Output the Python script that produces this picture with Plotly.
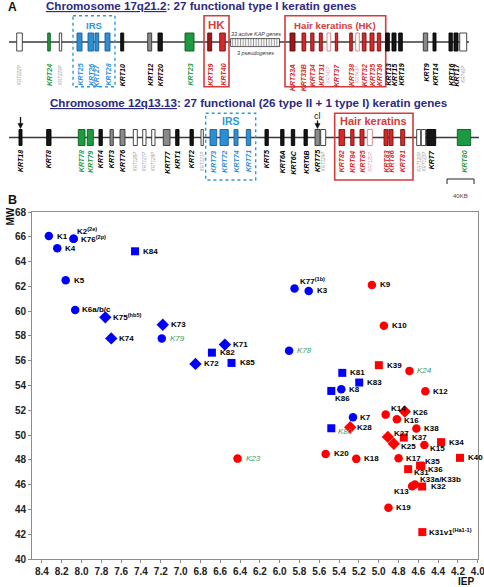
import plotly.graph_objects as go

W, H = 484, 587
FONT = "Liberation Sans, Arial, sans-serif"

# ---------------- Panel A data (map units along each chromosome) ----------------
chr17_genes = ["KRT222P", "KRT24", "KRT223P", "KRT25", "KRT26", "KRT27", "KRT28", "KRT10", "KRT12", "KRT20",
               "KRT23", "KRT39", "KRT40", "KRT33A", "KRT33B", "KRT34", "KRT31", "KRT41P", "KRT37", "KRT38",
               "KRT43P", "KRT32", "KRT35", "KRT36", "KRT13", "KRT15", "KRT19", "KRT9", "KRT14", "KRT16",
               "KRT17", "KRT42P"]
chr17_start = [16.7, 47.7, 59.3, 77, 88, 95, 105, 120.7, 147.7, 158,
               185, 207.7, 219.7, 290, 302, 310.7, 319.3, 327, 335.3, 349.7,
               355.7, 362.3, 370, 377.3, 385.7, 392, 398.7, 423.3, 433, 449,
               454, 459.7]
chr17_end = [22.3, 50.3, 61.7, 82, 93.7, 98.7, 110, 123.7, 151.7, 162.3,
             194, 211.7, 225.3, 295, 305.7, 314, 322.3, 330.7, 337.7, 352.3,
             359.3, 366, 374, 380.7, 389.3, 396, 402.3, 427.7, 436, 452.3,
             458, 466.7]
chr17_group = ["pseudo", "epi_new", "pseudo", "irs", "irs", "irs", "irs", "epi", "epi_gray", "epi",
               "epi_new", "hk_dark", "hk", "hk_dark", "hk", "hk", "hk", "hk_pseudo", "hk", "hk",
               "hk_pseudo", "hk", "hk", "hk", "epi", "epi", "epi", "epi_gray", "epi", "epi",
               "epi", "pseudo"]
chr17_kap = [231, 280]
chr17_regions = [("IRS", 73, 115, "irs"), ("HK", 204, 229, "hk"), ("Hair keratins (HK)", 285, 385.7, "hk")]

chr12_genes = ["KRT18", "KRT8", "KRT78", "KRT79", "KRT4", "KRT3", "KRT76", "KRT128P", "KRT127P", "KRT129P",
               "KRT77", "KRT1", "KRT2", "KRT121P", "KRT73", "KRT72", "KRT74", "KRT71", "KRT5", "KRT6A",
               "KRT6C", "KRT6B", "KRT75", "KRT124P", "KRT82", "KRT84", "KRT85", "KRT125P", "KRT83", "KRT86",
               "KRT81", "KRT120P", "KRT122P", "KRT7", "KRT80"]
chr12_start = [19, 46.7, 78.3, 87.3, 99, 110, 120, 133.3, 142.7, 151.7,
               163.3, 175.7, 190, 201, 210, 220, 234, 246.3, 265, 280.7,
               291.3, 304, 315, 320.7, 339, 350.7, 360, 367.3, 384, 389,
               400.7, 416.7, 421.3, 426.7, 457.3]
chr12_end = [22, 51, 85, 93.3, 102.3, 113.3, 125, 137.3, 146, 155,
             170, 179, 193.3, 203.3, 216.7, 228.3, 238, 250.7, 268.3, 284,
             294.7, 307.3, 320, 325.7, 344.7, 354, 364, 372.3, 388, 393,
             404.7, 420.7, 425.7, 435.7, 470.7]
chr12_group = ["epi", "epi", "epi_new", "epi_new", "epi", "epi_gray", "epi_gray", "pseudo", "pseudo", "pseudo",
               "epi_gray", "epi", "epi", "pseudo", "irs", "irs", "irs", "irs", "epi", "epi",
               "epi", "epi", "epi_gray", "pseudo", "hk", "hk", "hk", "hk_pseudo", "hk", "hk",
               "hk", "pseudo", "pseudo", "epi", "epi_new"]
chr12_regions = [("IRS", 205.7, 255.7, "irs"), ("Hair keratins", 334.7, 413, "hk")]
chr12_marks = [("", 20.5), ("cl", 317.5)]
scale_kb = 40
scale_len = 27

# ---------------- Panel B data ----------------
b_labels = ["K1", "K2", "K76", "K4", "K5", "K6a/b/c", "K75", "K74", "K84", "K73",
            "K79", "K71", "K82", "K72", "K85", "K78", "K77", "K3", "K81", "K83",
            "K8", "K86", "K7", "K80",
            "K9", "K10", "K39", "K24", "K12", "K14", "K26", "K16", "K38", "K28",
            "K27", "K37", "K25", "K15", "K34", "K23", "K20", "K18", "K17", "K35",
            "K36", "K31", "K40", "K33a/K33b", "K13", "K32", "K19", "K31v1"]
b_iep = [8.33, 8.08, 8.08, 8.245, 8.16, 8.064, 7.76, 7.70, 7.46, 7.18,
         7.19, 6.553, 6.684, 6.85, 6.486, 5.905, 5.85, 5.707, 5.368, 5.197,
         5.378, 5.479, 5.26, 5.479,
         5.069, 4.948, 4.999, 4.69, 4.53, 4.93, 4.737, 4.817, 4.62, 5.288,
         4.908, 4.747, 4.848, 4.539, 4.371, 6.425, 5.536, 5.227, 4.80, 4.583,
         4.57, 4.703, 4.18, 4.636, 4.663, 4.562, 4.902, 4.56]
b_mw = [66.06, 65.85, 65.85, 65.07, 62.49, 60.1, 59.5, 57.8, 64.83, 58.9,
        57.8, 57.3, 56.65, 55.74, 55.82, 56.8, 61.82, 61.63, 55.02, 54.24,
        53.70, 53.56, 51.44, 50.55,
        62.11, 58.83, 55.64, 55.18, 53.54, 51.65, 51.9, 51.28, 50.53, 50.63,
        49.85, 49.8, 49.3, 49.2, 49.43, 48.1, 48.48, 48.08, 48.13, 47.54,
        47.5, 47.25, 48.16, 46.01, 45.88, 45.85, 44.13, 42.17]
b_type = ["II"] * 24 + ["I"] * 28
b_group = ["epi", "epi", "epi", "epi", "epi", "epi", "irs", "irs", "hair", "irs",
           "epi", "irs", "hair", "irs", "hair", "epi", "epi", "epi", "hair", "hair",
           "epi", "hair", "epi", "hair",
           "epi", "epi", "hair", "epi", "epi", "epi", "irs", "epi", "epi", "irs",
           "irs", "hair", "irs", "epi", "hair", "epi", "epi", "epi", "epi", "hair",
           "hair", "hair", "hair", "epi", "epi", "hair", "epi", "hair"]
b_new = ["K79", "K78", "K80", "K24", "K23"]
b_sup = {"K2": "(2e)", "K76": "(2p)", "K75": "(hb5)", "K77": "(1b)", "K31v1": "(Ha1-1)"}
x_ticks = [8.4, 8.2, 8.0, 7.8, 7.6, 7.4, 7.2, 7.0, 6.8, 6.6, 6.4, 6.2, 6.0, 5.8, 5.6, 5.4, 5.2, 5.0,
           4.8, 4.6, 4.4, 4.2, 4.0]
y_ticks = [40, 42, 44, 46, 48, 50, 52, 54, 56, 58, 60, 62, 64, 66, 68]

# ---------------- styles ----------------
fill = {"epi": "#161616", "epi_gray": "#8a8a8a", "epi_new": "#1c9a40", "irs": "#2b8fd8",
        "hk": "#d62828", "hk_dark": "#9c1a1a", "pseudo": "white", "hk_pseudo": "white"}
edge = {"epi": "#000000", "epi_gray": "#333333", "epi_new": "#0d5a22", "irs": "#1b5f96",
        "hk": "#7a1010", "hk_dark": "#5a0a0a", "pseudo": "#333333", "hk_pseudo": "#d98080"}
lab_col = {"epi": "#000000", "epi_gray": "#000000", "epi_new": "#1e9a45", "irs": "#2b8fd8",
           "hk": "#d42a2a", "hk_dark": "#d42a2a", "pseudo": "#9a9a9a", "hk_pseudo": "#e09a9a"}
region_col = {"irs": "#2b9ad8", "hk": "#d43c3c"}
NAVY = "#2d2a80"
GREEN_LAB = "#339966"

label_offsets = {  # dx, dy (px, down positive), anchor
    "K2": (1, -8, "left"), "K76": (5, 0, "left"), "K6a/b/c": (4.5, 0, "left"),
    "K72": (7, 0, "left"), "K77": (3, -8, "left"), "K86": (2, 7.5, "left"),
    "K14": (3, -6, "left"), "K26": (6, 0.5, "left"), "K16": (5.5, 1.5, "left"),
    "K7": (5, 0, "left"), "K80": (5, 3, "left"), "K28": (5, 0, "left"),
    "K27": (4, -3.5, "left"), "K25": (5, 2.5, "left"), "K15": (4, 3.5, "left"),
    "K17": (5, 0, "left"), "K35": (3, -4.5, "left"), "K36": (4.5, 3, "left"),
    "K31": (4, 3.5, "left"), "K33a/K33b": (3, -5, "left"), "K13": (-1, 5, "right"),
    "K32": (7, 0, "left"), "K31v1": (5, 0, "left"),
}

fig = go.Figure()
shapes = []
annots = []

def ax2(**kw):
    d = dict(xref="x2", yref="y2")
    d.update(kw)
    return d

# ---- Panel A rows ----
rows = [
    dict(genes=chr17_genes, start=chr17_start, end=chr17_end, group=chr17_group, yc=42, hh=9,
         line=(9, 469), lab_top=62, regions=chr17_regions, reg_y=(15.7, 86.7), reg_lab_y=25,
         reg_size={"IRS": 9.6, "HK": 11.5, "Hair keratins (HK)": 9.7}),
    dict(genes=chr12_genes, start=chr12_start, end=chr12_end, group=chr12_group, yc=137.5, hh=8,
         line=(9, 479), lab_top=148.5, regions=chr12_regions, reg_y=(113.3, 180), reg_lab_y=120.5,
         reg_size={"IRS": 10.5, "Hair keratins": 11}),
]
for r in rows:
    shapes.append(ax2(type="line", x0=r["line"][0], x1=r["line"][1], y0=r["yc"], y1=r["yc"],
                      layer="below", line=dict(color="#3a3a3a", width=1.6)))
    for name, x0, x1, kind in r["regions"]:
        shapes.append(ax2(type="rect", x0=x0, x1=x1, y0=r["reg_y"][0], y1=r["reg_y"][1],
                          line=dict(color=region_col[kind], width=1.6 if kind == "hk" else 1.4,
                                    dash="dot" if kind == "irs" else "solid"),
                          fillcolor="rgba(0,0,0,0)"))
        annots.append(ax2(x=(x0 + x1) / 2, y=r["reg_lab_y"], text="<b>%s</b>" % name, showarrow=False,
                          font=dict(family=FONT, size=r["reg_size"][name], color=region_col[kind]),
                          xanchor="center", yanchor="middle"))
    for g, x0, x1, k in zip(r["genes"], r["start"], r["end"], r["group"]):
        shapes.append(ax2(type="rect", x0=x0, x1=x1, y0=r["yc"] - r["hh"], y1=r["yc"] + r["hh"],
                          fillcolor=fill[k], line=dict(color=edge[k], width=0.9)))
        tiny = k in ("pseudo", "hk_pseudo")
        annots.append(ax2(x=(x0 + x1) / 2, y=r["lab_top"] + (2 if tiny else 0),
                          text="<b><i>%s</i></b>" % g if not tiny else "<i>%s</i>" % g,
                          showarrow=False, textangle=-90, xanchor="center", yanchor="top",
                          font=dict(family=FONT, size=4.5 if tiny else 7, color=lab_col[k])))

# KAP cluster (hatched)
fig.add_trace(go.Bar(y=[43], x=[chr17_kap[1] - chr17_kap[0]], base=[chr17_kap[0]], width=[8],
                     orientation="h", xaxis="x2", yaxis="y2", showlegend=False, hoverinfo="skip",
                     marker=dict(color="white", line=dict(color="#333", width=0.8),
                                 pattern=dict(shape="|", fgcolor="#333", bgcolor="white", size=2.6,
                                              solidity=0.4))))
kap_mid = sum(chr17_kap) / 2
annots.append(ax2(x=kap_mid, y=33.5, text="<i>33 active KAP genes</i>", showarrow=False,
                  font=dict(family=FONT, size=5.4, color="#333")))
annots.append(ax2(x=kap_mid, y=52.5, text="<i>3 pseudogenes</i>", showarrow=False,
                  font=dict(family=FONT, size=5.4, color="#333")))

# arrows on chr12 (line + head)
for txt, xm in chr12_marks:
    y_top = 117 if not txt else 120.5
    shapes.append(ax2(type="line", x0=xm, x1=xm, y0=y_top, y1=124.5, line=dict(color="#111", width=1.3)))
    shapes.append(ax2(type="path", path="M %f,123.5 L %f,123.5 L %f,128.5 Z" % (xm - 2.6, xm + 2.6, xm),
                      fillcolor="#111", line=dict(color="#111", width=0.5)))
    if txt:
        annots.append(ax2(x=xm, y=115.5, text=txt, showarrow=False,
                          font=dict(family=FONT, size=9, color="#111")))

# scale bar
sb0 = 447
shapes.append(ax2(type="line", x0=sb0, x1=sb0 + scale_len, y0=179, y1=179, line=dict(color="#222", width=1)))
for xx in (sb0, sb0 + scale_len):
    shapes.append(ax2(type="line", x0=xx, x1=xx, y0=179, y1=184, line=dict(color="#222", width=1)))
annots.append(ax2(x=sb0 + scale_len / 2, y=195.5, text="%dKB" % scale_kb, showarrow=False,
                  font=dict(family=FONT, size=6, color="#444")))

# titles
annots.append(ax2(x=44, y=5.5, xanchor="left", yanchor="middle", showarrow=False,
                  text="<b><u>Chromosome 17q21.2</u>: 27 functional type I keratin genes</b>",
                  font=dict(family=FONT, size=11.6, color=NAVY)))
annots.append(ax2(x=48, y=102.5, xanchor="left", yanchor="middle", showarrow=False,
                  text="<b><u>Chromosome 12q13.13</u>: 27 functional (26 type II + 1 type I) keratin genes</b>",
                  font=dict(family=FONT, size=11.6, color=NAVY)))

# ---- Panel B ----
color_map = {"I": "#ff0000", "II": "#0000ff"}
symbol_map = {"epi": "circle", "irs": "diamond", "hair": "square"}
size_map = {"epi": 8.5, "irs": 9.5, "hair": 8}
for t in ["II", "I"]:
    for c in ["epi", "irs", "hair"]:
        idx = [i for i in range(len(b_labels)) if b_type[i] == t and b_group[i] == c]
        if not idx:
            continue
        fig.add_trace(go.Scatter(x=[b_iep[i] for i in idx], y=[b_mw[i] for i in idx], mode="markers",
                                 xaxis="x", yaxis="y", showlegend=False, hoverinfo="skip",
                                 marker=dict(symbol=symbol_map[c], size=size_map[c], color=color_map[t],
                                             line=dict(width=0))))

for lab, xv, yv in zip(b_labels, b_iep, b_mw):
    dx, dy, anc = label_offsets.get(lab, (6, 0, "left"))
    txt = lab + ("<sup>%s</sup>" % b_sup[lab] if lab in b_sup else "")
    if lab in b_new:
        txt = "<i>%s</i>" % txt
        font = dict(family=FONT, size=8, color=GREEN_LAB)
    else:
        txt = "<b>%s</b>" % txt
        font = dict(family=FONT, size=8, color="#000")
    annots.append(dict(x=xv, y=yv, xref="x", yref="y", text=txt, showarrow=False, xanchor=anc,
                       yanchor="middle", xshift=dx, yshift=-dy, font=font))

# panel letters and axis titles
def P(x, y):
    return x / W, 1 - y / H

for txt, (px, py), size, ang in [("A", (12, 7), 12, 0), ("B", (12, 200), 12.5, 0),
                                 ("MW", (10, 216.5), 10, -90), ("IEP", (466, 581), 10, 0)]:
    xx, yy = P(px, py)
    annots.append(dict(x=xx, y=yy, xref="paper", yref="paper", text="<b>%s</b>" % txt, showarrow=False,
                       textangle=ang, xanchor="center", yanchor="middle",
                       font=dict(family=FONT, size=size, color="#111")))

axis_common = dict(showgrid=False, zeroline=False, showline=True, linecolor="#8c8c8c", linewidth=1,
                   mirror=True, ticks="outside", ticklen=3, tickcolor="#8c8c8c", automargin=False,
                   ticklabeloverflow="allow",
                   tickfont=dict(family=FONT, size=10, color="#222", weight="bold"))
fig.update_layout(
    width=W, height=H, autosize=False, margin=dict(l=0, r=0, t=0, b=0, autoexpand=False),
    paper_bgcolor="white", plot_bgcolor="white", showlegend=False,
    xaxis=dict(domain=[32 / W, 478 / W], range=[8.5, 3.998], tickvals=x_ticks,
               ticktext=["%.1f" % v for v in x_ticks], anchor="y", **axis_common),
    yaxis=dict(domain=[1 - 559 / H, 1 - 212 / H], range=[40, 68], tickvals=y_ticks, anchor="x",
               **axis_common),
    xaxis2=dict(domain=[0, 1], range=[0, W], visible=False, anchor="y2", fixedrange=True),
    yaxis2=dict(domain=[1 - 200 / H, 1], range=[200, 0], visible=False, anchor="x2", fixedrange=True),
    shapes=shapes, annotations=annots, bargap=0,
)
fig.write_html("out.html", config={"displayModeBar": False},
               post_script="document.body.style.margin='0';document.body.style.padding='0';")
